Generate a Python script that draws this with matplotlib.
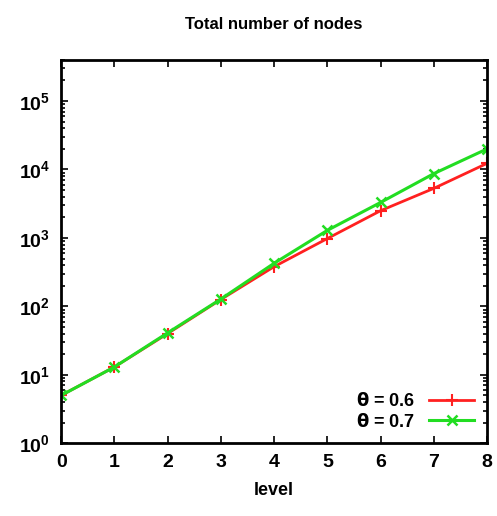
import numpy as np
import matplotlib.pyplot as plt
from matplotlib.ticker import LogLocator, NullFormatter

levels = [0, 1, 2, 3, 4, 5, 6, 7, 8]
nodes_06 = [5, 13, 40, 126, 380, 980, 2500, 5300, 12300]
nodes_07 = [5, 13, 41, 128, 426, 1290, 3300, 8700, 20000]

plt.rcParams.update({
    'font.family': 'Liberation Sans',
    'font.weight': 'bold',
    'axes.titleweight': 'bold',
    'axes.labelweight': 'bold',
    'mathtext.default': 'bf',
    'font.size': 13,
})

fig = plt.figure(figsize=(4.97, 5.16), dpi=100)
ax = fig.add_axes([0.123, 0.141, 0.857, 0.743])

ax.plot(levels, nodes_06, color='#ff2020', lw=2, marker='+', ms=9, mew=1.5,
        label=r'$\theta$ = 0.6')
ax.plot(levels, nodes_07, color='#22dd22', lw=2.2, marker='x', ms=7, mew=1.8,
        label=r'$\theta$ = 0.7')

ax.set_yscale('log')
ax.set_xlim(0, 8)
ax.set_ylim(1, 4e5)
ax.set_xticks(levels)
ax.yaxis.set_major_locator(LogLocator(base=10, numticks=10))
ax.yaxis.set_minor_locator(LogLocator(base=10, subs=np.arange(2, 10), numticks=20))
ax.yaxis.set_minor_formatter(NullFormatter())
ax.tick_params(which='both', direction='in', top=True, right=True, width=1.2)
ax.tick_params(which='major', length=5, pad=8, labelsize=14)
ax.tick_params(which='minor', length=3)
for s in ax.spines.values():
    s.set_linewidth(2)

ax.set_title('Total number of nodes', fontsize=12, pad=22)
ax.set_xlabel('level', fontsize=13, labelpad=8)

ax.legend(loc='lower right', frameon=False, markerfirst=False, handlelength=2.5,
          fontsize=13, labelspacing=0.15, borderaxespad=0.3)

fig.savefig('out.png', dpi=100)
